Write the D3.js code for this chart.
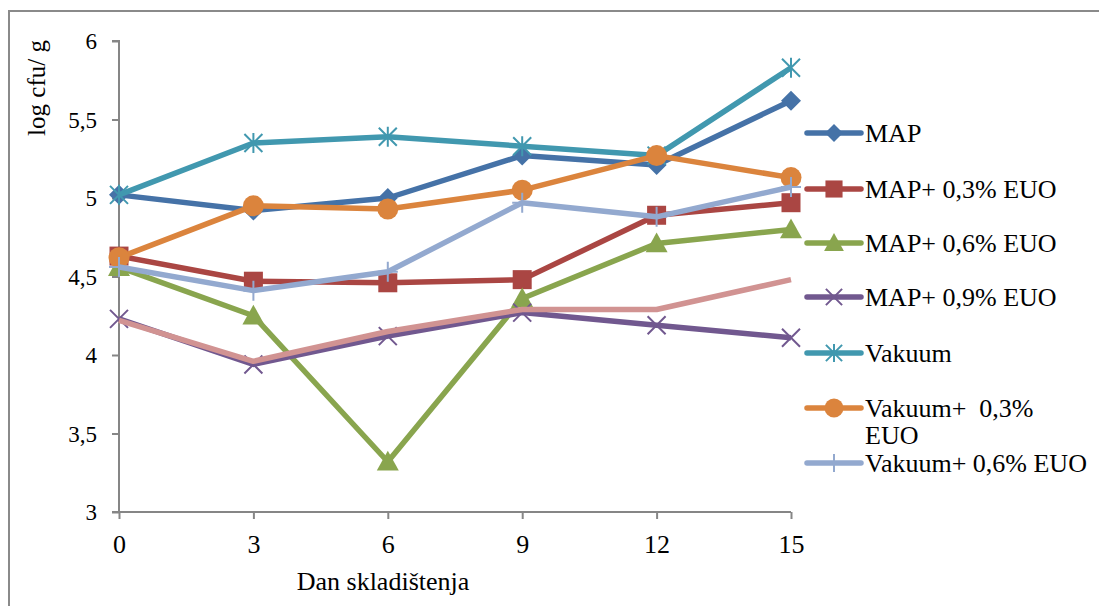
<!DOCTYPE html>
<html><head><meta charset="utf-8">
<script src="https://cdn.jsdelivr.net/npm/d3@7"></script>
<style>html,body{margin:0;padding:0;background:#fff;}svg{display:block;}</style>
</head><body>
<script>
const days = [0, 3, 6, 9, 12, 15];
const yTicks = [3, 3.5, 4, 4.5, 5, 5.5, 6];
const names = ["MAP", "MAP+ 0,3% EUO", "MAP+ 0,6% EUO", "MAP+ 0,9% EUO", "Vakuum", "Vakuum+  0,3%|EUO", "Vakuum+ 0,6% EUO", ""];
const sMAP    = [5.02, 4.92, 5.00, 5.27, 5.21, 5.62];
const sMAP03  = [4.63, 4.47, 4.46, 4.48, 4.89, 4.97];
const sMAP06  = [4.56, 4.25, 3.32, 4.36, 4.71, 4.80];
const sMAP09  = [4.23, 3.94, 4.12, 4.27, 4.19, 4.11];
const sVak    = [5.02, 5.35, 5.39, 5.33, 5.27, 5.83];
const sVak03  = [4.62, 4.95, 4.93, 5.05, 5.27, 5.13];
const sVak06  = [4.56, 4.41, 4.53, 4.97, 4.88, 5.07];
const sExtra  = [4.22, 3.96, 4.15, 4.29, 4.29, 4.48];
const colors = ["#4572A7", "#AA4643", "#89A54E", "#71588F", "#4198AF", "#DB843D", "#93A9CF", "#D19392"];
const markers = ["diamond", "square", "triangle", "x", "asterisk", "circle", "plus", "none"];
const series = [sMAP, sMAP03, sMAP06, sMAP09, sVak, sVak03, sVak06, sExtra];

const W = 1099, H = 606;
const FONT = "'Liberation Serif','Times New Roman',serif";
const svg = d3.select("body").append("svg").attr("width", W).attr("height", H);

svg.append("rect").attr("x", 9).attr("y", 11).attr("width", 1200).attr("height", 700)
  .attr("fill", "none").attr("stroke", "#8a8a8a").attr("stroke-width", 2);

const x = d3.scaleLinear().domain([0, 15]).range([119, 791]);
const y = d3.scaleLinear().domain([3, 6]).range([512, 41]);

// Y axis
const yAxis = svg.append("g").attr("transform", "translate(119,0)")
  .call(d3.axisLeft(y).tickValues(yTicks).tickSize(7).tickPadding(12)
        .tickFormat(d => d3.format(".1~f")(d).replace(".", ",")));
yAxis.select(".domain").attr("stroke", "#868686").attr("stroke-width", 2)
  .attr("d", `M-7,${y(6)}H0V${y(3)}`);
yAxis.selectAll(".tick line").attr("stroke", "#868686").attr("stroke-width", 2);
yAxis.selectAll(".tick text").attr("font-family", FONT).attr("font-size", 23).attr("fill", "#000")
  .attr("x", -22).attr("dy", "0.33em");

// X axis
const xAxis = svg.append("g").attr("transform", "translate(0,512)")
  .call(d3.axisBottom(x).tickValues(days).tickSize(7).tickPadding(12).tickFormat(d3.format("d")));
xAxis.select(".domain").attr("stroke", "#868686").attr("stroke-width", 2)
  .attr("d", `M${x(0) - 7},0H${x(15)}`);
xAxis.selectAll(".tick line").attr("stroke", "#868686").attr("stroke-width", 2);
xAxis.selectAll(".tick text").attr("font-family", FONT).attr("font-size", 26).attr("fill", "#000")
  .attr("y", 0).attr("dy", 41);

// Axis titles
svg.append("text").attr("x", 383).attr("y", 590).attr("text-anchor", "middle")
  .attr("font-family", FONT).attr("font-size", 26).text("Dan skladištenja");
svg.append("text").attr("transform", "translate(45,88) rotate(-90)").attr("text-anchor", "middle")
  .attr("font-family", FONT).attr("font-size", 25).text("log cfu/ g");

function drawMarker(g, type, cx, cy, color, s) {
  const k = s || 1;
  if (type === "diamond") {
    const r = 10 * k;
    g.append("path").attr("d", `M${cx},${cy - r}L${cx + r},${cy}L${cx},${cy + r}L${cx - r},${cy}Z`).attr("fill", color);
  } else if (type === "square") {
    const r = 9.5 * k;
    g.append("rect").attr("x", cx - r).attr("y", cy - r).attr("width", 2 * r).attr("height", 2 * r).attr("fill", color);
  } else if (type === "triangle") {
    const r = 11 * k;
    g.append("path").attr("d", `M${cx},${cy - r}L${cx + r},${cy + r * 0.8}L${cx - r},${cy + r * 0.8}Z`).attr("fill", color);
  } else if (type === "circle") {
    g.append("circle").attr("cx", cx).attr("cy", cy).attr("r", 10.5 * k).attr("fill", color);
  } else if (type === "x") {
    const r = 9 * k;
    g.append("path").attr("d", `M${cx - r},${cy - r}L${cx + r},${cy + r}M${cx - r},${cy + r}L${cx + r},${cy - r}`)
      .attr("stroke", color).attr("stroke-width", 2).attr("fill", "none");
  } else if (type === "asterisk") {
    const r = 9 * k;
    g.append("path").attr("d", `M${cx - r},${cy - r}L${cx + r},${cy + r}M${cx - r},${cy + r}L${cx + r},${cy - r}M${cx},${cy - r - 1}V${cy + r + 1}`)
      .attr("stroke", color).attr("stroke-width", 2).attr("fill", "none");
  } else if (type === "plus") {
    const r = 10 * k;
    g.append("path").attr("d", `M${cx},${cy - r}V${cy + r}M${cx - r},${cy}H${cx + r}`)
      .attr("stroke", color).attr("stroke-width", 2).attr("fill", "none");
  }
}

const line = d3.line().x((d, i) => x(days[i])).y(d => y(d));
series.forEach((vals, si) => {
  const g = svg.append("g");
  g.append("path").attr("d", line(vals)).attr("fill", "none").attr("stroke", colors[si])
    .attr("stroke-width", 5.5).attr("stroke-linejoin", "round");
  vals.forEach((v, i) => drawMarker(g, markers[si], x(days[i]), y(v), colors[si]));
});

// Legend
const legY = [133, 189, 243, 297, 353, 408, 463];
names.slice(0, 7).forEach((n, i) => {
  const g = svg.append("g");
  const cy = legY[i];
  g.append("line").attr("x1", 807).attr("x2", 861).attr("y1", cy).attr("y2", cy)
    .attr("stroke", colors[i]).attr("stroke-width", 5.5).attr("stroke-linecap", "round");
  drawMarker(g, markers[i], 834, cy, colors[i], 0.9);
  const parts = n.split("|");
  parts.forEach((p, j) => {
    g.append("text").attr("x", 865).attr("y", cy + 9 + j * 27).attr("font-family", FONT)
      .attr("font-size", 26).attr("xml:space", "preserve").style("white-space", "pre").text(p);
  });
});
</script>
</body></html>
